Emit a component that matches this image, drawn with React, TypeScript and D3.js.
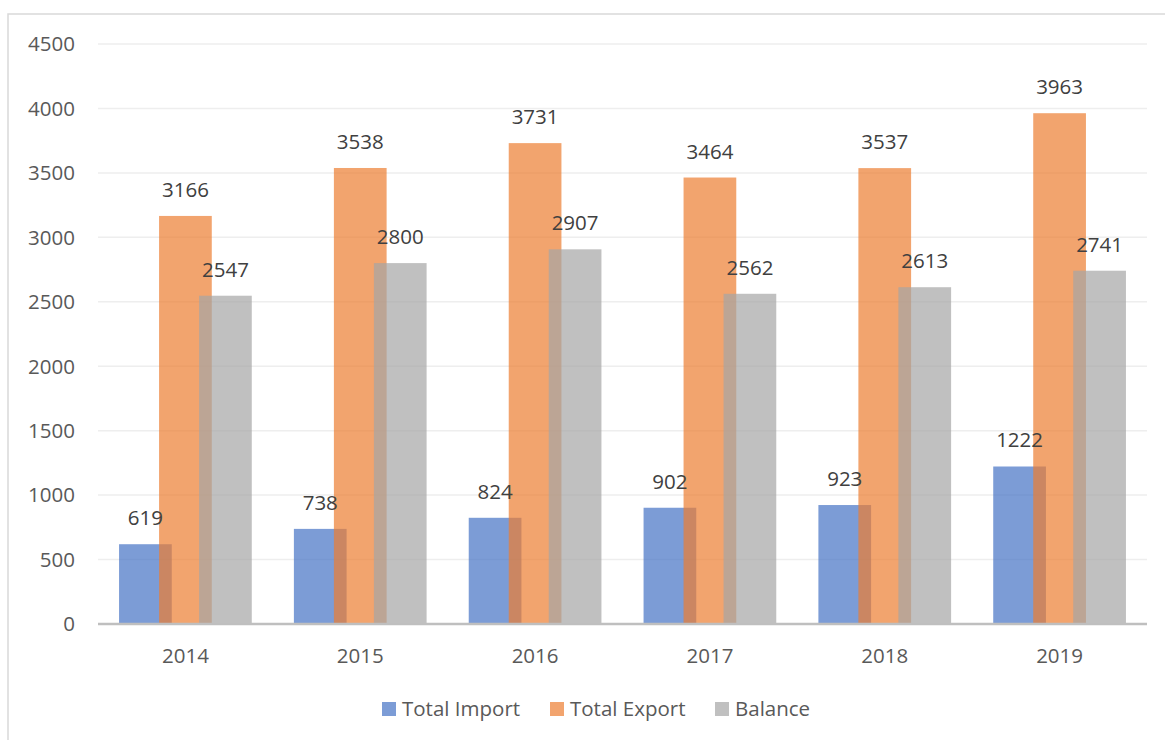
import React from "react";
import * as d3 from "d3";

const years = ["2014", "2015", "2016", "2017", "2018", "2019"];
const seriesNames = ["Total Import", "Total Export", "Balance"];
const totalImport = [619, 738, 824, 902, 923, 1222];
const totalExport = [3166, 3538, 3731, 3464, 3537, 3963];
const balance = [2547, 2800, 2907, 2562, 2613, 2741];
const yTicks = [0, 500, 1000, 1500, 2000, 2500, 3000, 3500, 4000, 4500];
const colors = ["#4472C4", "#ED7D31", "#A5A5A5"];

const W = 1165;
const H = 740;
const FONT = "'Open Sans', sans-serif";
const TEXT = "#595959";

export default function App() {
  const seriesValues = [totalImport, totalExport, balance];
  const x = d3.scaleBand().domain(years).range([98, 1147]).padding(0);
  const bw = x.bandwidth();
  const barW = bw * 0.3015;
  const offset = d3
    .scalePoint()
    .domain(seriesNames)
    .range([-bw * 0.2288, bw * 0.2288]);
  const y = d3.scaleLinear().domain([0, 4500]).range([624, 44]);

  const legendX = [382, 550, 715];

  return (
    <svg
      width={W}
      height={H}
      style={{ position: "absolute", left: 0, top: 0, background: "#fff" }}
    >
      <rect x={8} y={14} width={1200} height={800} fill="#fff" stroke="#D9D9D9" strokeWidth={1.5} />
      {yTicks.map((t) => (
        <g key={t}>
          {t > 0 && (
            <line x1={98} x2={1147} y1={y(t)} y2={y(t)} stroke="#EEEEEE" strokeWidth={1.5} />
          )}
          <text
            x={75}
            y={y(t)}
            dy="0.36em"
            textAnchor="end"
            fontFamily={FONT}
            fontSize={20.5}
            fill={TEXT}
          >
            {t}
          </text>
        </g>
      ))}
      {seriesNames.map((s, si) => (
        <g key={s}>
          {years.map((yr, i) => {
            const cx = (x(yr) as number) + bw / 2 + (offset(s) as number);
            const v = seriesValues[si][i];
            return (
              <rect
                key={yr}
                x={cx - barW / 2}
                y={y(v)}
                width={barW}
                height={y(0) - y(v)}
                fill={colors[si]}
                fillOpacity={0.7}
              />
            );
          })}
        </g>
      ))}
      <line x1={98} x2={1147} y1={624} y2={624} stroke="#BFBFBF" strokeWidth={2.5} />
      {seriesNames.map((s, si) => (
        <g key={s + "l"}>
          {years.map((yr, i) => {
            const cx = (x(yr) as number) + bw / 2 + (offset(s) as number);
            const v = seriesValues[si][i];
            return (
              <text
                key={yr}
                x={cx}
                y={y(v) - 19}
                textAnchor="middle"
                fontFamily={FONT}
                fontSize={20.5}
                fill="#404040"
              >
                {v}
              </text>
            );
          })}
        </g>
      ))}
      {years.map((yr) => (
        <text
          key={yr}
          x={(x(yr) as number) + bw / 2}
          y={663}
          textAnchor="middle"
          fontFamily={FONT}
          fontSize={20.5}
          fill={TEXT}
        >
          {yr}
        </text>
      ))}
      {seriesNames.map((s, si) => (
        <g key={s + "leg"}>
          <rect x={legendX[si]} y={702} width={14} height={14} fill={colors[si]} fillOpacity={0.7} />
          <text x={legendX[si] + 20} y={716} fontFamily={FONT} fontSize={20.5} fill={TEXT}>
            {s}
          </text>
        </g>
      ))}
    </svg>
  );
}
